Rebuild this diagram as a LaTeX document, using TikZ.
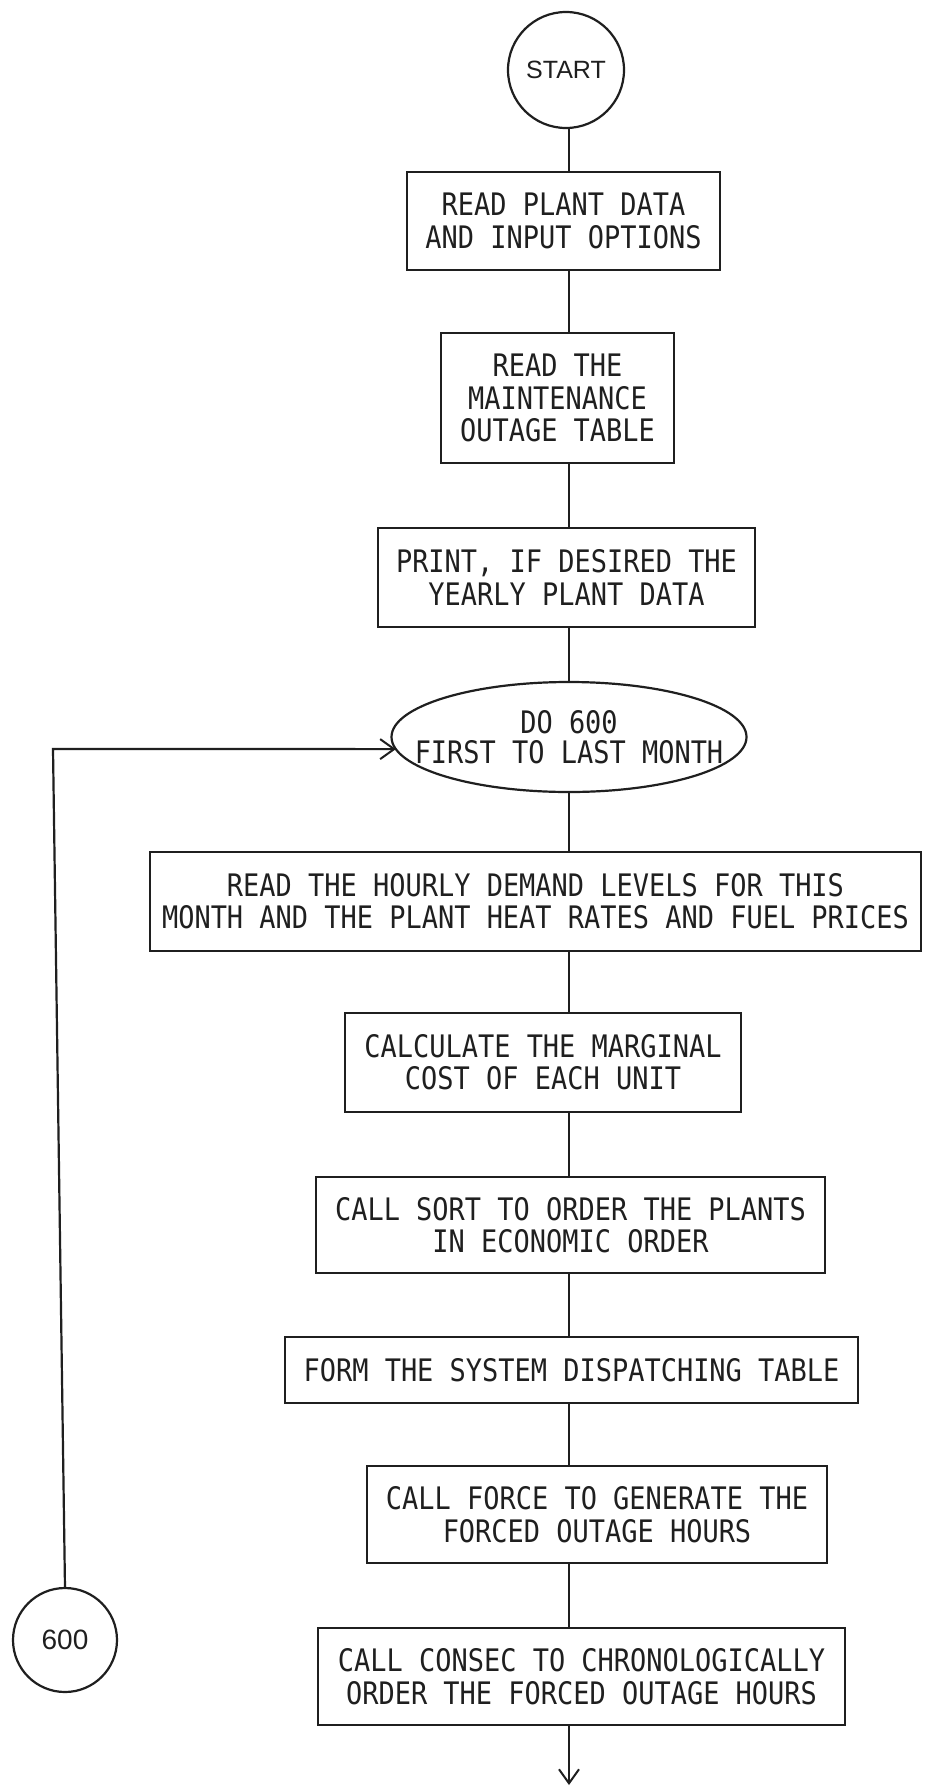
\documentclass[tikz,border=0pt]{standalone}
\usepackage{fontspec}
\usetikzlibrary{shapes.geometric,arrows.meta}
\newfontfamily\typefont[FakeStretch=0.87]{DejaVu Sans Mono}
\newfontfamily\labelfont{Liberation Sans}
\definecolor{ink}{gray}{0.12}

\begin{document}
\begin{tikzpicture}[x=0.5pt,y=-0.5pt,
  every node/.style={inner sep=0pt, outer sep=0pt},
  stepbox/.style={draw=ink, line width=1.1pt, align=center, text=ink,
    font={\typefont\fontsize{15.5pt}{16.2pt}\selectfont}},
  loopshape/.style={ellipse, draw=ink, line width=1.1pt},
  termcircle/.style={circle, draw=ink, line width=1.1pt, text=ink,
    font={\labelfont\fontsize{12.5pt}{14pt}\selectfont}},
  flow/.style={draw=ink, line width=1.1pt},
  flowarrow/.style={flow, -{Straight Barb[length=7pt,width=10pt,line width=1pt]}}]

% page area
\fill[white] (0,0) rectangle (928,1787);
\useasboundingbox (0,0) rectangle (928,1787);

% main column
\coordinate (ax) at (569,0);

\node[termcircle, minimum size=58pt] (start) at (566,70) {START};

\node[stepbox, minimum width=156.5pt, minimum height=49pt] (b1) at (563.5,221)
  {READ PLANT DATA\\AND INPUT OPTIONS};
\node[stepbox, minimum width=116.5pt, minimum height=65pt] (b2) at (557.5,398)
  {READ THE\\MAINTENANCE\\OUTAGE TABLE};
\node[stepbox, minimum width=188.5pt, minimum height=49.5pt] (b3) at (566.5,577.5)
  {PRINT, IF DESIRED THE\\YEARLY PLANT DATA};

\node[loopshape, minimum width=177.5pt, minimum height=55pt] (do) at (569,737) {};
\node[align=center, text=ink, font={\typefont\fontsize{15.5pt}{15pt}\selectfont}]
  (dotext) at (569,737) {DO 600\\FIRST TO LAST MONTH};

\node[stepbox, minimum width=385.5pt, minimum height=49.5pt] (b4) at (535.5,901.5)
  {READ THE HOURLY DEMAND LEVELS FOR THIS\\MONTH AND THE PLANT HEAT RATES AND FUEL PRICES};
\node[stepbox, minimum width=198pt, minimum height=49.5pt] (b5) at (543,1062.5)
  {CALCULATE THE MARGINAL\\COST OF EACH UNIT};
\node[stepbox, minimum width=254.5pt, minimum height=48pt] (b6) at (570.5,1225)
  {CALL SORT TO ORDER THE PLANTS\\IN ECONOMIC ORDER};
\node[stepbox, minimum width=286.5pt, minimum height=33pt] (b7) at (571.5,1370)
  {FORM THE SYSTEM DISPATCHING TABLE};
\node[stepbox, minimum width=230pt, minimum height=48.5pt] (b8) at (597,1514.5)
  {CALL FORCE TO GENERATE THE\\FORCED OUTAGE HOURS};
\node[stepbox, minimum width=263.5pt, minimum height=48.5pt] (b9) at (581.5,1676.5)
  {CALL CONSEC TO CHRONOLOGICALLY\\ORDER THE FORCED OUTAGE HOURS};

% loop connector
\node[termcircle, minimum size=52pt, font={\labelfont\fontsize{14pt}{16pt}\selectfont}]
  (c600) at (65,1640) {600};
\coordinate (corner) at (53,749);
\coordinate (cont) at (569,1785);

% connectors down the column
\draw[flow] (ax |- start.south) -- (ax |- b1.north);
\draw[flow] (ax |- b1.south) -- (ax |- b2.north);
\draw[flow] (ax |- b2.south) -- (ax |- b3.north);
\draw[flow] (ax |- b3.south) -- (ax |- do.north);
\draw[flow] (ax |- do.south) -- (ax |- b4.north);
\draw[flow] (ax |- b4.south) -- (ax |- b5.north);
\draw[flow] (ax |- b5.south) -- (ax |- b6.north);
\draw[flow] (ax |- b6.south) -- (ax |- b7.north);
\draw[flow] (ax |- b7.south) -- (ax |- b8.north);
\draw[flow] (ax |- b8.south) -- (ax |- b9.north);
\draw[flowarrow] (ax |- b9.south) -- (cont);

% return of the loop
\draw[flowarrow] (c600.north) -- (corner) -- (do.184);
\end{tikzpicture}
\end{document}
